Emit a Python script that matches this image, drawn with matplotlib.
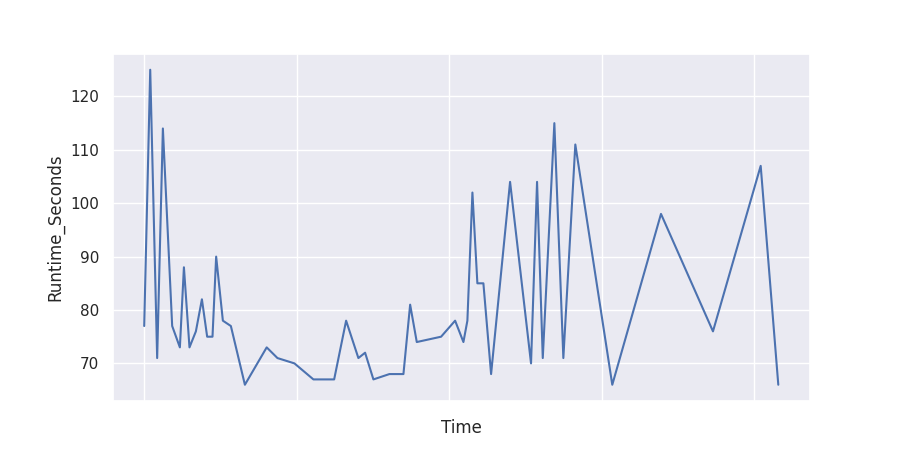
import matplotlib
matplotlib.use('Agg')
import matplotlib.pyplot as plt
import seaborn as sns

sns.set_theme()

# time axis (labels hidden in the original), in arbitrary units
time = [0.0, 0.79, 1.70, 2.45, 3.67, 4.68, 5.21, 5.94, 6.78, 7.57,
        8.26, 8.96, 9.44, 10.32, 11.37, 13.21, 16.07, 17.48, 19.71, 22.20,
        24.92, 26.49, 28.10, 28.98, 30.07, 32.17, 34.01, 34.89, 35.76, 38.95,
        40.79, 41.88, 42.40, 43.06, 43.71, 44.50, 45.51, 48.00, 50.75, 51.54,
        52.29, 53.81, 54.99, 56.56, 61.41, 67.80, 74.62, 80.88, 83.19]
runtime = [77, 125, 71, 114, 77, 73, 88, 73, 76, 82,
           75, 75, 90, 78, 77, 66, 73, 71, 70, 67,
           67, 78, 71, 72, 67, 68, 68, 81, 74, 75,
           78, 74, 78, 102, 85, 85, 68, 104, 70, 104,
           71, 115, 71, 111, 66, 98, 76, 107, 66]

fig, ax = plt.subplots(figsize=(9, 4.5), dpi=100)
ax.plot(time, runtime, color='#4c72b0', linewidth=1.5)
ax.set_xticklabels([])
ax.set_xlabel('Time')
ax.set_ylabel('Runtime_Seconds')
fig.savefig('out.png')
